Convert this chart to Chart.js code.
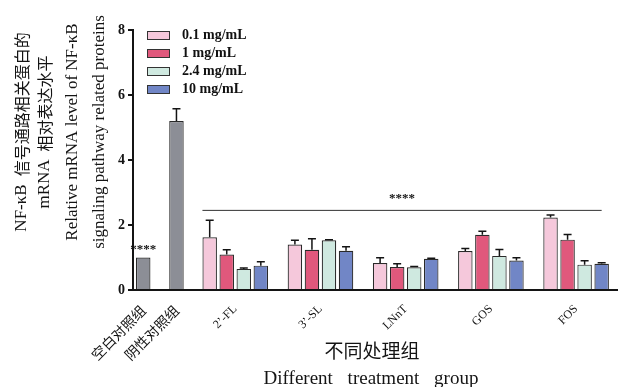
<!DOCTYPE html>
<html>
<head>
<meta charset="utf-8">
<script src="https://cdn.jsdelivr.net/npm/chart.js@4.4.0/dist/chart.umd.min.js"></script>
<style>
  html, body { margin: 0; padding: 0; background: #fff; }
  #wrap { position: relative; width: 621px; height: 387px; }
  #legend { position: absolute; left: 147px; top: 26px; font: bold 14px 'Liberation Serif', serif; color: #111; }
  .item { display: flex; align-items: center; height: 18px; }
  .box { width: 21px; height: 7px; border: 1px solid #333; margin-right: 12px; }
</style>
</head>
<body>
<div id="wrap">
  <canvas id="c" width="621" height="387"></canvas>
  <div id="legend"></div>
</div>
<script>
/* ── DATA ── */
const controls = ['空白对照组', '阴性对照组'];
const groups   = ['2’-FL', '3’-SL', 'LNnT', 'GOS', 'FOS'];
const doses    = ['0.1 mg/mL', '1 mg/mL', '2.4 mg/mL', '10 mg/mL'];

const controlMean = [1.00, 5.20];
const controlSd   = [0.00, 0.38];

const mean01  = [1.62, 1.40, 0.83, 1.20, 2.23];
const sd01    = [0.53, 0.13, 0.16, 0.08, 0.08];
const mean1   = [1.09, 1.24, 0.71, 1.70, 1.55];
const sd1     = [0.15, 0.34, 0.10, 0.11, 0.16];
const mean24  = [0.65, 1.53, 0.70, 1.05, 0.78];
const sd24    = [0.03, 0.02, 0.02, 0.20, 0.12];
const mean10  = [0.75, 1.21, 0.96, 0.91, 0.81];
const sd10    = [0.12, 0.12, 0.02, 0.08, 0.03];

const sigLevel = 2.45;      // significance bracket height (y units)
const sigText  = '****';

/* ── LAYOUT / STYLE ── */
const doseMeans  = [mean01, mean1, mean24, mean10];
const doseSds    = [sd01, sd1, sd24, sd10];
const doseColors = ['#f5c8db', '#e0587c', '#cfe9e0', '#7186c6'];
const ctrlColor  = '#8c8e96';
const ink        = '#141414';

// slot layout on the linear x axis: one slot per bar
const ctrlSlots  = [0.1, 2.05];
const groupStart = 4, groupStep = 5;
const xOfCtrl  = i => ctrlSlots[i] + 0.5;
const xOfDose  = (gi, di) => groupStart + gi * groupStep + di + 0.5;
const xOfGroup = gi => groupStart + gi * groupStep + 2;

const tickValues = [...controls.map((c, i) => xOfCtrl(i)), ...groups.map((g, i) => xOfGroup(i))];
const tickLabels = [...controls, ...groups];

const serif = "'Liberation Serif', 'Noto Sans CJK SC', serif";
const cjk   = "'Noto Sans CJK SC', serif";

/* ── EXTRAS: error bars, significance marks, axis titles ── */
function drawRun(ctx, parts, cx, cy) {
  // parts: [text, font, gapAfter]
  const widths = parts.map(([t, f]) => { ctx.font = f; return ctx.measureText(t).width; });
  const total = widths.reduce((s, w, i) => s + w + (parts[i][2] || 0), 0);
  let x = cx - total / 2;
  ctx.textAlign = 'left';
  parts.forEach(([t, f, g], i) => {
    ctx.font = f;
    ctx.fillText(t, x, cy);
    x += widths[i] + (g || 0);
  });
}

const extras = {
  id: 'extras',
  afterDatasetsDraw(chart) {
    const ctx = chart.ctx;
    const y = chart.scales.y;
    ctx.save();
    ctx.strokeStyle = ink;
    ctx.lineWidth = 1.5;
    chart.data.datasets.forEach((ds, di) => {
      const meta = chart.getDatasetMeta(di);
      meta.data.forEach((bar, i) => {
        const sd = ds.sd[i];
        if (!sd) return;
        const top = y.getPixelForValue(ds.data[i].y + sd);
        ctx.beginPath();
        ctx.moveTo(bar.x, bar.y);
        ctx.lineTo(bar.x, top);
        ctx.moveTo(bar.x - 4, top);
        ctx.lineTo(bar.x + 4, top);
        ctx.stroke();
      });
    });

    // bracket over treatment groups
    const first = chart.getDatasetMeta(1).data[0];
    const last  = chart.getDatasetMeta(doses.length).data[groups.length - 1];
    const ly = y.getPixelForValue(sigLevel);
    const x0 = first.x - first.width / 2, x1 = last.x;
    ctx.strokeStyle = '#333';
    ctx.lineWidth = 1;
    ctx.beginPath();
    ctx.moveTo(x0, ly);
    ctx.lineTo(x1, ly);
    ctx.stroke();

    ctx.fillStyle = ink;
    ctx.font = 'bold 13px ' + serif;
    ctx.textAlign = 'center';
    ctx.textBaseline = 'alphabetic';
    ctx.fillText(sigText, (x0 + x1) / 2, ly - 8);

    // marks over blank control
    const blank = chart.getDatasetMeta(0).data[0];
    ctx.fillText(sigText, blank.x, blank.y - 5);
    ctx.restore();
  },
  afterDraw(chart) {
    const ctx = chart.ctx;
    ctx.save();
    ctx.fillStyle = ink;
    ctx.textBaseline = 'middle';
    const lat = '17px ' + serif;
    const han = '16px ' + cjk;
    const yTitle = [
      [[['NF-κB', lat, 8], ['信号通路相关蛋白的', han]], 22],
      [[['mRNA', lat, 8], ['相对表达水平', han]], 45],
      [[['Relative mRNA level of NF-κB', lat]], 73],
      [[['signaling pathway related proteins', lat]], 100]
    ];
    yTitle.forEach(([parts, x]) => {
      ctx.save();
      ctx.translate(x, 132);
      ctx.rotate(-Math.PI / 2);
      drawRun(ctx, parts, 0, 0);
      ctx.restore();
    });
    ctx.textAlign = 'center';
    ctx.font = '19px ' + cjk;
    ctx.fillText('不同处理组', 372, 351);
    ctx.font = '19px ' + serif;
    if ('wordSpacing' in ctx) ctx.wordSpacing = '10px';
    ctx.fillText('Different treatment group', 371, 379);
    ctx.restore();
  }
};

/* ── CHART ── */
const datasets = [
  {
    label: 'control',
    data: controls.map((c, i) => ({ x: xOfCtrl(i), y: controlMean[i] })),
    sd: controlSd,
    backgroundColor: ctrlColor
  },
  ...doses.map((d, di) => ({
    label: d,
    data: groups.map((g, gi) => ({ x: xOfDose(gi, di), y: doseMeans[di][gi] })),
    sd: doseSds[di],
    backgroundColor: doseColors[di]
  }))
];

const chart = new Chart(document.getElementById('c'), {
  type: 'bar',
  data: { datasets },
  options: {
    responsive: false,
    animation: false,
    layout: { padding: { left: 0, right: 4, top: 30, bottom: 0 } },
    datasets: {
      bar: {
        grouped: false,
        categoryPercentage: 1,
        barPercentage: 0.85,
        borderWidth: 1.2,
        borderColor: '#2a2a2a'
      }
    },
    plugins: { legend: { display: false }, tooltip: { enabled: false } },
    scales: {
      x: {
        type: 'linear',
        min: 0,
        max: 28.4,
        offset: false,
        afterBuildTicks: s => { s.ticks = tickValues.map(v => ({ value: v })); },
        afterFit: s => { s.height = 97; },
        ticks: {
          autoSkip: false,
          minRotation: 45,
          maxRotation: 45,
          padding: 4,
          color: ink,
          font: c => ({ family: c.index < controls.length ? cjk : serif, size: c.index < controls.length ? 14 : 12 }),
          callback: (v, i) => tickLabels[i]
        },
        grid: { display: false },
        border: { color: ink, width: 2 }
      },
      y: {
        min: 0,
        max: 8,
        afterFit: s => { s.width = 133; },
        ticks: { stepSize: 2, padding: 3, color: ink, font: { family: serif, size: 14, weight: 'bold' } },
        grid: { drawOnChartArea: false, color: ink, lineWidth: 2, tickLength: 5 },
        border: { color: ink, width: 2 }
      }
    }
  },
  plugins: [extras]
});

/* ── HTML LEGEND ── */
const legendEl = document.getElementById('legend');
chart.data.datasets.slice(1).forEach(ds => {
  const row = document.createElement('div');
  row.className = 'item';
  const box = document.createElement('span');
  box.className = 'box';
  box.style.background = ds.backgroundColor;
  const txt = document.createElement('span');
  txt.textContent = ds.label;
  row.append(box, txt);
  legendEl.append(row);
});
</script>
</body>
</html>
